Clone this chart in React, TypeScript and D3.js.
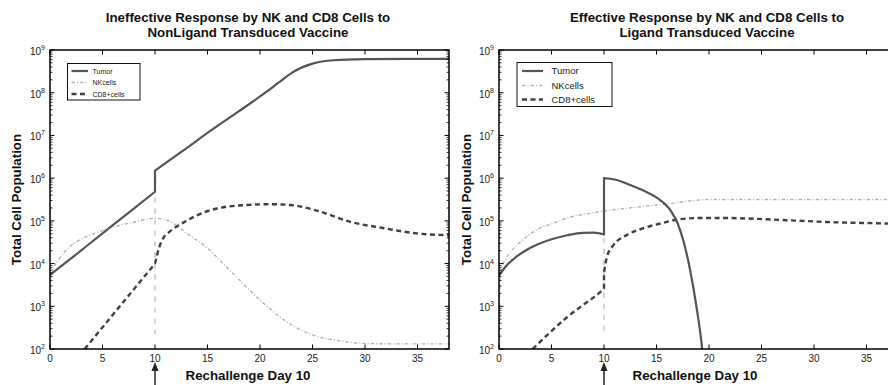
import React from "react";
import * as d3 from "d3";

// ---- text ----
const titleIneffective = ["Ineffective Response by NK and CD8 Cells to", "NonLigand Transduced Vaccine"];
const titleEffective = ["Effective Response by NK and CD8 Cells to", "Ligand Transduced Vaccine"];
const legendLabels = ["Tumor", "NKcells", "CD8+cells"];
const yAxisLabel = "Total Cell Population";
const xAxisLabel = "Rechallenge Day 10";
const xTicks = [0, 5, 10, 15, 20, 25, 30, 35];
const yExponents = [2, 3, 4, 5, 6, 7, 8, 9];
const rechallengeDay = 10;

// ---- NonLigand vaccine: [day, cells] ----
const tumorIneffBefore = [[0, 5.4e3], [2.5, 1.65e4], [5, 5.1e4], [7.5, 1.55e5], [10, 4.8e5]];
const tumorIneffAfter = [
  [10, 1.5e6], [12.5, 4.1e6], [15.4, 1.35e7], [18, 3.7e7], [20.5, 1.0e8], [21.8, 1.74e8],
  [23.1, 3.0e8], [25, 4.8e8], [27, 5.75e8], [30, 6.1e8], [34, 6.2e8], [38, 6.2e8],
];
const nkIneff = [
  [0, 3.5e3], [0.3, 7.1e3], [1, 1.41e4], [2, 2.63e4], [3, 3.8e4], [4.4, 5.25e4], [6, 7.2e4],
  [8, 9.3e4], [10, 1.15e5], [11, 1.07e5], [12, 7.9e4], [13, 5.2e4], [14.9, 2.4e4],
  [17.4, 5.9e3], [20, 1.41e3], [22.5, 4.4e2], [25, 2.14e2], [27.6, 1.55e2], [30, 1.35e2],
  [33, 1.32e2], [38, 1.32e2],
];
const cd8IneffBefore = [[3.3, 1e2], [6.65, 1e3], [10, 1e4]];
const cd8IneffAfter = [
  [10, 1e4], [10.4, 2.4e4], [10.8, 4.0e4], [11.4, 5.6e4], [12, 7.2e4], [13, 1.0e5], [14, 1.35e5],
  [15.9, 1.95e5], [18.7, 2.35e5], [21, 2.45e5], [22.9, 2.35e5], [25.4, 1.74e5], [28.6, 9.5e4],
  [31.7, 6.8e4], [34.9, 5.1e4], [38, 4.6e4],
];
const rechallengeIneff = [[10, 3.5e5], [10, 2.2e2]];

// ---- Ligand vaccine: [day, cells] ----
const tumorEffBefore = [
  [0, 5.2e3], [0.7, 8.9e3], [1.5, 1.35e4], [2.5, 2.0e4], [3.6, 2.75e4], [5, 3.7e4],
  [6.5, 4.6e4], [8, 5.25e4], [9, 5.3e4], [10, 4.8e4],
];
const tumorEffAfter = [
  [10, 1e6], [11, 9.3e5], [12.5, 6.9e5], [14, 4.8e5], [15.1, 3.4e5], [16.4, 1.66e5],
  [17, 8.9e4], [17.6, 3.16e4], [18.2, 7.1e3], [18.8, 1e3], [19.35, 1e2], [19.5, 4e1],
];
const nkEff = [
  [0, 1e2], [0.05, 1e3], [0.15, 6.3e3], [0.7, 1.35e4], [1.5, 2.4e4], [2.5, 4e4], [3.6, 6.2e4],
  [5, 8.5e4], [6.8, 1.23e5], [8.5, 1.48e5], [10, 1.7e5], [13.2, 2.1e5], [16.4, 2.57e5],
  [18.5, 3.0e5], [20, 3.16e5], [25, 3.16e5], [38, 3.16e5],
];
const cd8EffBefore = [[3.2, 1e2], [4.9, 2.5e2], [6.5, 5.6e2], [8, 1.07e3], [9.5, 2e3], [10, 2.6e3]];
const cd8EffAfter = [
  [10, 6.3e3], [10.3, 1.5e4], [10.9, 2.7e4], [12.2, 4.7e4], [13.8, 6.8e4], [15.4, 8.7e4],
  [17.3, 1.1e5], [19.5, 1.17e5], [21, 1.17e5], [26.9, 1.05e5], [31.7, 9.3e4], [36.7, 8.7e4],
  [38, 8.5e4],
];
const rechallengeEff = [[10, 4e4], [10, 2e2]];

// ---- styles ----
const FONT = "'Liberation Sans', Arial, Helvetica, sans-serif";
const tumorStyle = { stroke: "#555", strokeWidth: 2.2, dash: undefined as string | undefined };
const nkStyle = { stroke: "#b3b3b3", strokeWidth: 1.4, dash: "3.5,2,1,2" };
const cd8Style = { stroke: "#404040", strokeWidth: 2.4, dash: "5,3.5" };
const markStyle = { stroke: "#b3b3b3", strokeWidth: 1.1, dash: "5,6" };

type Pt = number[];

function Panel(props: {
  id: string;
  left: number;
  titleX: number;
  xLabelX: number;
  yLabelX: number;
  title: string[];
  series: { segments: Pt[][]; style: typeof tumorStyle }[];
  legend: { x: number; y: number; w: number; h: number; rows: number[]; lineX: number[]; textX: number; fs: number };
}) {
  const top = 50;
  const bottom = 349;
  const x = d3.scaleLinear().domain([0, 38]).range([props.left, props.left + 399]);
  const y = d3.scaleLog().domain([1e2, 1e9]).range([bottom, top]);
  const [x0, x1] = x.range();
  const line = d3
    .line<Pt>()
    .x((d) => x(d[0]))
    .y((d) => y(d[1]))
    .curve(d3.curveMonotoneX);

  // consecutive segments are joined by a straight (vertical) connector
  const buildPath = (segments: Pt[][]) =>
    segments
      .map((seg, i) => {
        const p = line(seg) || "";
        return i === 0 ? p : "L" + p.slice(1);
      })
      .join("");

  const minor: number[] = [];
  for (let e = 2; e < 9; e++) for (let m = 2; m <= 9; m++) minor.push(m * Math.pow(10, e));

  const styles = [tumorStyle, nkStyle, cd8Style];
  const arrowX = x(rechallengeDay);

  return (
    <g fontFamily={FONT}>
      <defs>
        <clipPath id={props.id}>
          <rect x={x0} y={top} width={x1 - x0} height={bottom - top} />
        </clipPath>
      </defs>
      {props.title.map((t, i) => (
        <text key={i} x={props.titleX} y={21.5 + i * 15} textAnchor="middle" fontSize={13.3} fontWeight="bold" fill="#111">
          {t}
        </text>
      ))}
      <g clipPath={`url(#${props.id})`}>
        {props.series.map((s, i) => (
          <path
            key={i}
            d={buildPath(s.segments)}
            fill="none"
            stroke={s.style.stroke}
            strokeWidth={s.style.strokeWidth}
            strokeDasharray={s.style.dash}
            strokeLinejoin="round"
          />
        ))}
      </g>
      {xTicks.map((t) => (
        <g key={t}>
          <line x1={x(t)} x2={x(t)} y1={bottom} y2={bottom - 4.5} stroke="#000" strokeWidth={1} />
          <line x1={x(t)} x2={x(t)} y1={top} y2={top + 4.5} stroke="#000" strokeWidth={1} />
          <text x={x(t)} y={361.5} textAnchor="middle" fontSize={10} fill="#222">
            {t}
          </text>
        </g>
      ))}
      {yExponents.map((e) => {
        const yy = y(Math.pow(10, e));
        return (
          <g key={e}>
            <line x1={x0} x2={x0 + 4.5} y1={yy} y2={yy} stroke="#000" strokeWidth={1} />
            <line x1={x1} x2={x1 - 4.5} y1={yy} y2={yy} stroke="#000" strokeWidth={1} />
            <text x={x0 - 5} y={yy + 5} textAnchor="end" fontSize={10} fill="#222">
              10
              <tspan fontSize={7} dy={-5}>
                {e}
              </tspan>
            </text>
          </g>
        );
      })}
      {minor.map((v) => (
        <g key={v}>
          <line x1={x0} x2={x0 + 2.5} y1={y(v)} y2={y(v)} stroke="#000" strokeWidth={0.8} />
          <line x1={x1} x2={x1 - 2.5} y1={y(v)} y2={y(v)} stroke="#000" strokeWidth={0.8} />
        </g>
      ))}
      <rect x={x0} y={top} width={x1 - x0} height={bottom - top} fill="none" stroke="#000" strokeWidth={1.5} />
      <rect x={props.legend.x} y={props.legend.y} width={props.legend.w} height={props.legend.h} fill="#fff" stroke="#111" strokeWidth={1} />
      {legendLabels.map((lab, i) => (
        <g key={lab}>
          <line
            x1={props.legend.lineX[0]}
            x2={props.legend.lineX[1]}
            y1={props.legend.rows[i]}
            y2={props.legend.rows[i]}
            stroke={styles[i].stroke}
            strokeWidth={styles[i].strokeWidth}
            strokeDasharray={styles[i].dash}
          />
          <text x={props.legend.textX} y={props.legend.rows[i] + props.legend.fs * 0.36} fontSize={props.legend.fs} fill="#222">
            {lab}
          </text>
        </g>
      ))}
      <text
        transform={`translate(${props.yLabelX},${(top + bottom) / 2}) rotate(-90)`}
        textAnchor="middle"
        fontSize={13.3}
        fontWeight="bold"
        fill="#111"
      >
        {yAxisLabel}
      </text>
      <text x={props.xLabelX} y={380} textAnchor="middle" fontSize={13.3} fontWeight="bold" fill="#111">
        {xAxisLabel}
      </text>
      <line x1={arrowX} x2={arrowX} y1={369} y2={390} stroke="#333" strokeWidth={1.6} />
      <path d={`M${arrowX},362 L${arrowX - 3.5},371 L${arrowX + 3.5},371 Z`} fill="#222" />
    </g>
  );
}

export default function App() {
  return (
    <svg
      width={888}
      height={385}
      viewBox="0 0 888 385"
      style={{ position: "fixed", left: 0, top: 0, background: "#fff" }}
    >
      <rect width={888} height={385} fill="#fff" />
      <Panel
        id="clipIneff"
        left={50}
        titleX={248}
        xLabelX={248}
        yLabelX={20.5}
        title={titleIneffective}
        series={[
          { segments: [rechallengeIneff], style: markStyle },
          { segments: [nkIneff], style: nkStyle },
          { segments: [cd8IneffBefore, cd8IneffAfter], style: cd8Style },
          { segments: [tumorIneffBefore, tumorIneffAfter], style: tumorStyle },
        ]}
        legend={{ x: 67.5, y: 63.5, w: 72.5, h: 36.5, rows: [71, 82.5, 94], lineX: [71.5, 88], textX: 92.5, fs: 7 }}
      />
      <Panel
        id="clipEff"
        left={499}
        titleX={707}
        xLabelX={695}
        yLabelX={470.5}
        title={titleEffective}
        series={[
          { segments: [rechallengeEff], style: markStyle },
          { segments: [nkEff], style: nkStyle },
          { segments: [cd8EffBefore, cd8EffAfter], style: cd8Style },
          { segments: [tumorEffBefore, tumorEffAfter], style: tumorStyle },
        ]}
        legend={{ x: 517, y: 62.5, w: 95, h: 44, rows: [71, 85.5, 99.5], lineX: [522, 543], textX: 551.5, fs: 9.5 }}
      />
    </svg>
  );
}
